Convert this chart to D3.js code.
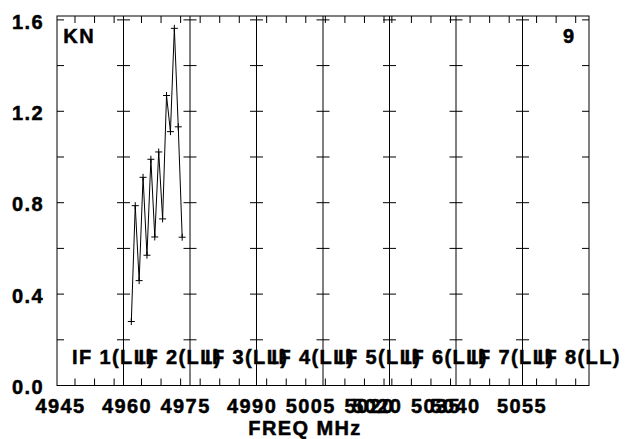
<!DOCTYPE html>
<html><head><meta charset="utf-8">
<script src="https://cdn.jsdelivr.net/npm/d3@7/dist/d3.min.js"></script>
<style>body{margin:0;background:#fff}svg{display:block}
text{font-family:'Liberation Sans', Arial, Helvetica, sans-serif;font-weight:bold;font-size:20px;fill:#000;stroke:#000;stroke-width:0.5px}</style>
</head><body><svg id="chart" width="626" height="439"></svg>
<script>
// ---- data ----
const ifNames = ["IF 1(LL)","IF 2(LL)","IF 3(LL)","IF 4(LL)","IF 5(LL)","IF 6(LL)","IF 7(LL)","IF 8(LL)"];
const ifStartMHz = [4945.4, 4960.4, 4977.4, 4992.4, 5009.4, 5024.4, 5041.4, 5056.4];
const chanWidthMHz = 1;
const slotsPerIF = 17;
const dataIF = 2;
const dataChannels = [2,3,4,5,6,7,8,9,10,11,12,13,14,15];
const amplitudes = [0.280,0.787,0.459,0.911,0.570,0.990,0.650,1.022,0.729,1.269,1.111,1.563,1.132,0.649];
const yTickValues = [0,0.2,0.4,0.6,0.8,1.0,1.2,1.4,1.6];
const yLabelValues = [0,0.4,0.8,1.2,1.6];
const xLabelValues = [4945,4960,4975,4990,5005,5020,5020,5035,5040,5055];
const xLabelIFs = [1,2,2,4,4,5,6,6,7,8];
const xMinorStepMHz = 5;
const sourceName = "KN";
const plotNumber = "9";
const xTitle = "FREQ MHz";
const yMax = 1.617;

// ---- layout ----
const svg = d3.select("#chart");
const L = 57, R = 589, T = 16, B = 385.5;
const nIF = ifNames.length;
const x = d3.scaleLinear().domain([0, nIF * slotsPerIF]).range([L, R]);
const y = d3.scaleLinear().domain([0, yMax]).range([B, T]);
const fx = (ifNum, f) => x((ifNum - 1) * slotsPerIF + (f - ifStartMHz[ifNum - 1]) / chanWidthMHz);

const g = svg.append("g");
// frame
g.append("rect").attr("x", L).attr("y", T).attr("width", R - L).attr("height", B - T)
  .attr("fill", "none").attr("stroke", "#000").attr("stroke-width", 1);

// panel separators
const bounds = d3.range(1, nIF).map(k => x(k * slotsPerIF));
g.selectAll(".sep").data(bounds).join("line")
  .attr("x1", d => d).attr("x2", d => d).attr("y1", T).attr("y2", B)
  .attr("stroke", "#000").attr("stroke-width", 1);

// y ticks: left, right, and crossing each separator
const yt = g.append("g").attr("stroke", "#000").attr("stroke-width", 1);
yTickValues.forEach(v => {
  const yy = y(v);
  yt.append("line").attr("x1", L).attr("x2", L + 7).attr("y1", yy).attr("y2", yy);
  yt.append("line").attr("x1", R - 7).attr("x2", R).attr("y1", yy).attr("y2", yy);
  bounds.forEach(bx => {
    yt.append("line").attr("x1", bx - 6.5).attr("x2", bx + 6.5).attr("y1", yy).attr("y2", yy);
  });
});

// x minor ticks per IF (top and bottom)
const xt = g.append("g").attr("stroke", "#000").attr("stroke-width", 1);
ifStartMHz.forEach((f0, i) => {
  const f1 = f0 + slotsPerIF * chanWidthMHz;
  for (let m = Math.ceil(f0 / xMinorStepMHz) * xMinorStepMHz; m < f1; m += xMinorStepMHz) {
    const xx = fx(i + 1, m);
    xt.append("line").attr("x1", xx).attr("x2", xx).attr("y1", B).attr("y2", B - 7);
    xt.append("line").attr("x1", xx).attr("x2", xx).attr("y1", T).attr("y2", T + 7);
  }
});

// y labels
g.selectAll(".ylab").data(yLabelValues).join("text")
  .attr("x", 44).attr("y", d => y(d) + 8.7)
  .attr("text-anchor", "end")
  .style("letter-spacing", "1.4px")
  .text(d => d.toFixed(1));

// x labels
g.selectAll(".xlab").data(xLabelValues).join("text")
  .attr("x", (d, i) => fx(xLabelIFs[i], d) + 5)
  .attr("y", 413.3)
  .attr("text-anchor", "middle")
  .style("letter-spacing", "1.4px")
  .text(d => d);

// IF labels
g.selectAll(".iflab").data(ifNames).join("text")
  .attr("x", (d, i) => x(i * slotsPerIF) + 15)
  .attr("y", 364)
  .style("letter-spacing", "1.4px")
  .text(d => d);

// titles
g.append("text").attr("x", 63.3).attr("y", 43.3)
  .style("letter-spacing", "1.4px").text(sourceName);
g.append("text").attr("x", 574).attr("y", 43.3).attr("text-anchor", "end")
  .text(plotNumber);
g.append("text").attr("x", 305).attr("y", 435).attr("text-anchor", "middle")
  .style("letter-spacing", "1.4px").text(xTitle);

// data
const pts = dataChannels.map((c, i) => [x((dataIF - 1) * slotsPerIF + c), y(amplitudes[i])]);
g.append("path").attr("d", d3.line()(pts))
  .attr("fill", "none").attr("stroke", "#000").attr("stroke-width", 1);
g.selectAll(".pt").data(pts).join("path")
  .attr("d", d => `M${d[0]-3.5},${d[1]}H${d[0]+3.5}M${d[0]},${d[1]-3.5}V${d[1]+3.5}`)
  .attr("stroke", "#000").attr("stroke-width", 1).attr("fill", "none");
</script></body></html>
